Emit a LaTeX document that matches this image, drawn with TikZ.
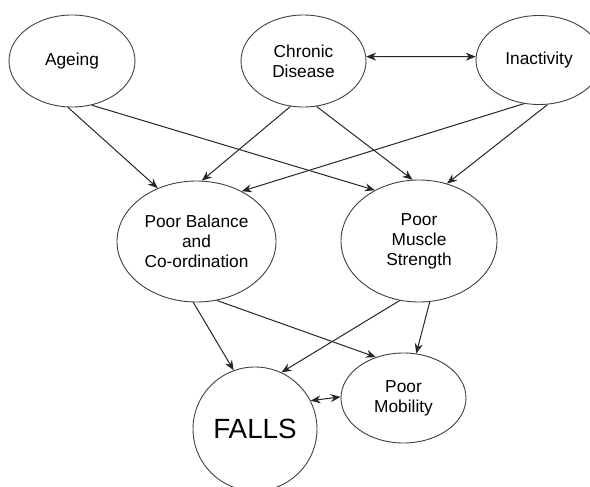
\documentclass[tikz,border=0pt]{standalone}
\usepackage{fontspec}
\setmainfont{Liberation Sans}
\usetikzlibrary{shapes.geometric,arrows.meta}

\begin{document}
\begin{tikzpicture}[x=1pt,y=-1pt,
		factor/.style={ellipse,draw=black!75,line width=0.9pt,inner sep=0pt,align=center,
			font=\fontsize{17.3}{20}\selectfont,text=black},
		link/.style={-{Stealth[length=10pt,width=8pt]},line width=1pt,black!85},
		twoway/.style={{Stealth[length=10pt,width=8pt]}-{Stealth[length=10pt,width=8pt]},line width=1pt,black!85}]
		\useasboundingbox (0,0) rectangle (590,487);
		\clip (0,0) rectangle (590,487);

		% causes
		\draw (72,61) node (ageing) [factor,minimum width=126pt,minimum height=92pt] {Ageing};
		\draw (303.5,61) node (chronic) [factor,minimum width=125pt,minimum height=92pt] {Chronic\\Disease};
		\draw (539,60) node (inactivity) [factor,minimum width=126pt,minimum height=89pt] {Inactivity};

		% middle layer
		\draw (196.5,241.5) node (balance) [factor,minimum width=159pt,minimum height=121pt] {Poor Balance\\and\\Co-ordination};
		\draw (419,241) node (muscle) [factor,minimum width=156pt,minimum height=122pt] {Poor\\Muscle\\Strength};

		% outcomes
		\draw (255,429) node (falls) [factor,minimum width=124pt,minimum height=124pt,font=\fontsize{27.8}{32}\selectfont] {FALLS};
		\draw (403.5,398) node (mobility) [factor,minimum width=125pt,minimum height=90pt] {Poor\\Mobility};

		\draw[twoway] (chronic.4) -- (inactivity.177);

		\draw[link] (ageing.-95) -- (balance.126);
		\draw[link] (ageing.-66) -- (muscle.131);
		\draw[link] (chronic.-106) -- (balance.85);
		\draw[link] (chronic.-74) -- (muscle.96);
		\draw[link] (inactivity.-109) -- (balance.48);
		\draw[link] (inactivity.-79) -- (muscle.64);

		\draw[link] (balance.-93) -- (falls.110);
		\draw[link] (balance.-71) -- (mobility.124);
		\draw[link] (muscle.-108) -- (falls.65);
		\draw[link] (muscle.-80) -- (mobility.74);

		\draw[twoway] (falls.27) -- (mobility.179);
	\end{tikzpicture}
\end{document}
